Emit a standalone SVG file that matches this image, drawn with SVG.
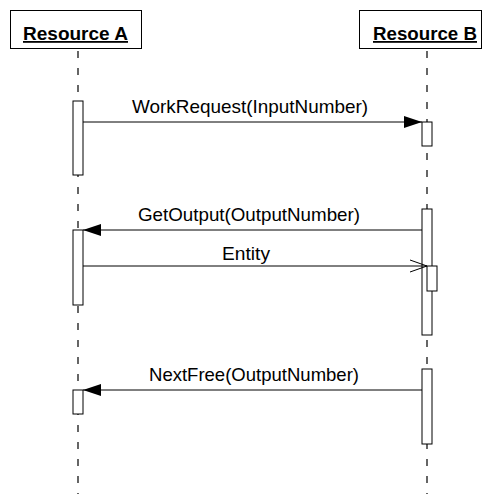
<svg xmlns="http://www.w3.org/2000/svg" width="484" height="494" viewBox="0 0 484 494">
<defs>
<style>
.box{fill:#fff;stroke:#000;stroke-width:1}
.life{stroke:#000;stroke-width:1.2;stroke-dasharray:7 10}
.act{fill:#fff;stroke:#000;stroke-width:1}
.msg{stroke:#000;stroke-width:1;fill:none}
.title{font-family:"Liberation Sans",Arial,sans-serif;font-size:18px;font-weight:bold;text-decoration:underline;fill:#000}
.lbl{font-family:"Liberation Sans",Arial,sans-serif;font-size:18.5px;fill:#000}
</style>
<marker id="filled" viewBox="0 0 18 12" refX="18" refY="6" markerWidth="18" markerHeight="12" markerUnits="userSpaceOnUse" orient="auto">
<path d="M0,0 L18,6 L0,12 Z" fill="#000"/>
</marker>
<marker id="open" viewBox="0 0 18 14" refX="17" refY="7" markerWidth="18" markerHeight="14" markerUnits="userSpaceOnUse" orient="auto">
<path d="M0,1 L17,7 L0,13" fill="none" stroke="#000" stroke-width="1"/>
</marker>
</defs>
<g id="resourceA">
<rect class="box" x="10.5" y="10.5" width="131" height="38"/>
<text class="title" x="75.5" y="40" text-anchor="middle" textLength="105" lengthAdjust="spacingAndGlyphs">Resource A</text>
<line class="life" x1="78" y1="51" x2="78" y2="494"/>
<rect class="act" x="73" y="101" width="10" height="74"/>
<rect class="act" x="73" y="230" width="10" height="75"/>
<rect class="act" x="73" y="390" width="10" height="24"/>
</g>
<g id="resourceB">
<rect class="box" x="359.5" y="10.5" width="122" height="38"/>
<text class="title" x="425" y="40" text-anchor="middle" textLength="104" lengthAdjust="spacingAndGlyphs">Resource B</text>
<line class="life" x1="427" y1="51" x2="427" y2="494"/>
<rect class="act" x="422" y="122" width="10" height="24"/>
<rect class="act" x="422" y="209" width="10" height="126"/>
<rect class="act" x="427" y="266" width="10" height="25"/>
<rect class="act" x="422" y="369" width="10" height="75"/>
</g>
<g id="connectors">
<line class="msg" x1="83" y1="122" x2="422" y2="122" marker-end="url(#filled)"/>
<text class="lbl" x="250" y="113" text-anchor="middle" textLength="236" lengthAdjust="spacingAndGlyphs">WorkRequest(InputNumber)</text>
<line class="msg" x1="422" y1="230" x2="83" y2="230" marker-end="url(#filled)"/>
<text class="lbl" x="249" y="221" text-anchor="middle" textLength="222" lengthAdjust="spacingAndGlyphs">GetOutput(OutputNumber)</text>
<line class="msg" x1="83" y1="266" x2="427" y2="266" marker-end="url(#open)"/>
<text class="lbl" x="246" y="260" text-anchor="middle" textLength="48" lengthAdjust="spacingAndGlyphs">Entity</text>
<line class="msg" x1="422" y1="390" x2="83" y2="390" marker-end="url(#filled)"/>
<text class="lbl" x="254" y="381" text-anchor="middle" textLength="210" lengthAdjust="spacingAndGlyphs">NextFree(OutputNumber)</text>
</g>
</svg>
